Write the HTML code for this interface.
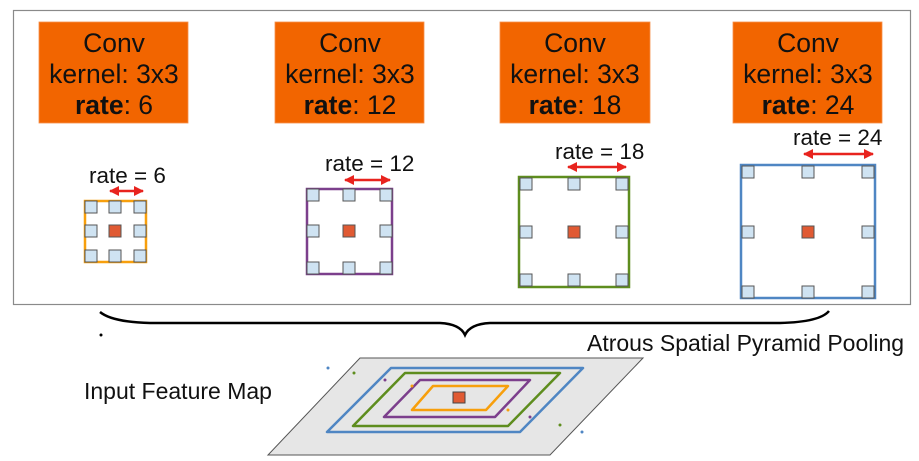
<!DOCTYPE html>
<html><head><meta charset="utf-8"><style>
html,body{margin:0;padding:0;background:#fff;}
svg{display:block;}
text{font-family:"Liberation Sans",sans-serif;}
</style></head><body>
<svg width="919" height="461" viewBox="0 0 919 461" xmlns="http://www.w3.org/2000/svg">
<defs>
<marker id="ah" viewBox="0 0 10 10" refX="9" refY="5" markerWidth="4" markerHeight="4" orient="auto-start-reverse"><path d="M0,0 L10,5 L0,10 z" fill="#e8231e"/></marker>
</defs>
<rect x="13.5" y="10.5" width="897" height="294" fill="#fff" stroke="#8a8a8a" stroke-width="1.2"/>
<g fill="#f26500" stroke="#f5904a" stroke-width="0.8">
<rect x="39" y="22" width="149" height="101"/>
<rect x="275" y="22" width="149" height="101"/>
<rect x="500" y="22" width="150" height="101"/>
<rect x="733" y="22" width="149" height="101"/>
</g>
<g font-size="26.5" fill="#111" text-anchor="middle">
<text x="114" y="52">Conv</text><text x="114" y="83">kernel: 3x3</text><text x="114" y="114"><tspan font-weight="bold">rate</tspan>: 6</text>
<text x="350" y="52">Conv</text><text x="350" y="83">kernel: 3x3</text><text x="350" y="114"><tspan font-weight="bold">rate</tspan>: 12</text>
<text x="575" y="52">Conv</text><text x="575" y="83">kernel: 3x3</text><text x="575" y="114"><tspan font-weight="bold">rate</tspan>: 18</text>
<text x="808" y="52">Conv</text><text x="808" y="83">kernel: 3x3</text><text x="808" y="114"><tspan font-weight="bold">rate</tspan>: 24</text>
</g>
<g font-size="22.5" fill="#111">
<text x="89" y="183">rate = 6</text>
<text x="325" y="171">rate = 12</text>
<text x="555" y="159">rate = 18</text>
<text x="793" y="145">rate = 24</text>
</g>
<g stroke="#e8231e" stroke-width="2.5" marker-start="url(#ah)" marker-end="url(#ah)">
<line x1="110" y1="191" x2="143" y2="191"/>
<line x1="345" y1="180" x2="390" y2="180"/>
<line x1="568" y1="167" x2="626" y2="167"/>
<line x1="804" y1="154" x2="873" y2="154"/>
</g>
<rect x="85" y="201" width="61" height="61" fill="#fff" stroke="#f79f0c" stroke-width="2.5"/>
<rect x="307" y="189" width="85" height="85" fill="#fff" stroke="#7c3f8c" stroke-width="2.5"/>
<rect x="519" y="177" width="110" height="110" fill="#fff" stroke="#5e8d1e" stroke-width="2.5"/>
<rect x="741" y="165" width="134" height="133" fill="#fff" stroke="#4f86c3" stroke-width="2.5"/>
<g fill="#cfe3f2" stroke="#555" stroke-width="1">
<rect x="85" y="201" width="12" height="12"/><rect x="109" y="201" width="12" height="12"/><rect x="134" y="201" width="12" height="12"/>
<rect x="85" y="225" width="12" height="12"/><rect x="134" y="225" width="12" height="12"/>
<rect x="85" y="250" width="12" height="12"/><rect x="109" y="250" width="12" height="12"/><rect x="134" y="250" width="12" height="12"/>
<rect x="307" y="189" width="12" height="12"/><rect x="343" y="189" width="12" height="12"/><rect x="380" y="189" width="12" height="12"/>
<rect x="307" y="225" width="12" height="12"/><rect x="380" y="225" width="12" height="12"/>
<rect x="307" y="262" width="12" height="12"/><rect x="343" y="262" width="12" height="12"/><rect x="380" y="262" width="12" height="12"/>
<rect x="520" y="178" width="12" height="12"/><rect x="568" y="178" width="12" height="12"/><rect x="616" y="178" width="12" height="12"/>
<rect x="520" y="226" width="12" height="12"/><rect x="616" y="226" width="12" height="12"/>
<rect x="520" y="274" width="12" height="12"/><rect x="568" y="274" width="12" height="12"/><rect x="616" y="274" width="12" height="12"/>
<rect x="742" y="166" width="12" height="12"/><rect x="802" y="166" width="12" height="12"/><rect x="862" y="166" width="12" height="12"/>
<rect x="742" y="226" width="12" height="12"/><rect x="862" y="226" width="12" height="12"/>
<rect x="742" y="286" width="12" height="12"/><rect x="802" y="286" width="12" height="12"/><rect x="862" y="286" width="12" height="12"/>
</g>
<g fill="#e05a33" stroke="#555" stroke-width="1">
<rect x="109" y="225" width="12" height="12"/>
<rect x="343" y="225" width="12" height="12"/>
<rect x="568" y="226" width="12" height="12"/>
<rect x="802" y="226" width="12" height="12"/>
</g>
<path d="M100,312 Q112,322 150,323 L440,323 Q460,324 465,335 Q470,324 490,323 L780,323 Q820,322 829,311" fill="none" stroke="#000" stroke-width="2.5"/>
<circle cx="101" cy="335" r="1.5" fill="#000"/>
<text x="587" y="351" font-size="23" fill="#111">Atrous Spatial Pyramid Pooling</text>
<text x="84" y="399" font-size="23" fill="#111">Input Feature Map</text>
<polygon points="268,455 550,455 643,358 360,358" fill="#e6e6e6" stroke="#555" stroke-width="1"/>
<g fill="none" stroke-width="2.5" stroke-linejoin="round">
<polygon points="327,432 520,432 583,368 391,368" stroke="#4f86c3"/>
<polygon points="353,426 508,426 560,373 405,373" stroke="#5e8d1e"/>
<polygon points="384,417 495,417 530,380 420,380" stroke="#7c3f8c"/>
<polygon points="412,410 486,410 508,386 433,386" stroke="#f79f0c"/>
</g>
<rect x="453" y="392" width="12" height="11" fill="#e05a33" stroke="#444" stroke-width="1"/>
<g>
<circle cx="328" cy="368" r="1.5" fill="#4f86c3"/><circle cx="354" cy="373" r="1.5" fill="#5e8d1e"/>
<circle cx="385" cy="380" r="1.5" fill="#7c3f8c"/><circle cx="412" cy="386" r="1.5" fill="#f79f0c"/>
<circle cx="508" cy="410" r="1.5" fill="#f79f0c"/><circle cx="530" cy="417" r="1.5" fill="#7c3f8c"/>
<circle cx="560" cy="425" r="1.5" fill="#5e8d1e"/><circle cx="582" cy="432" r="1.5" fill="#4f86c3"/>
</g>
</svg>
</body></html>
